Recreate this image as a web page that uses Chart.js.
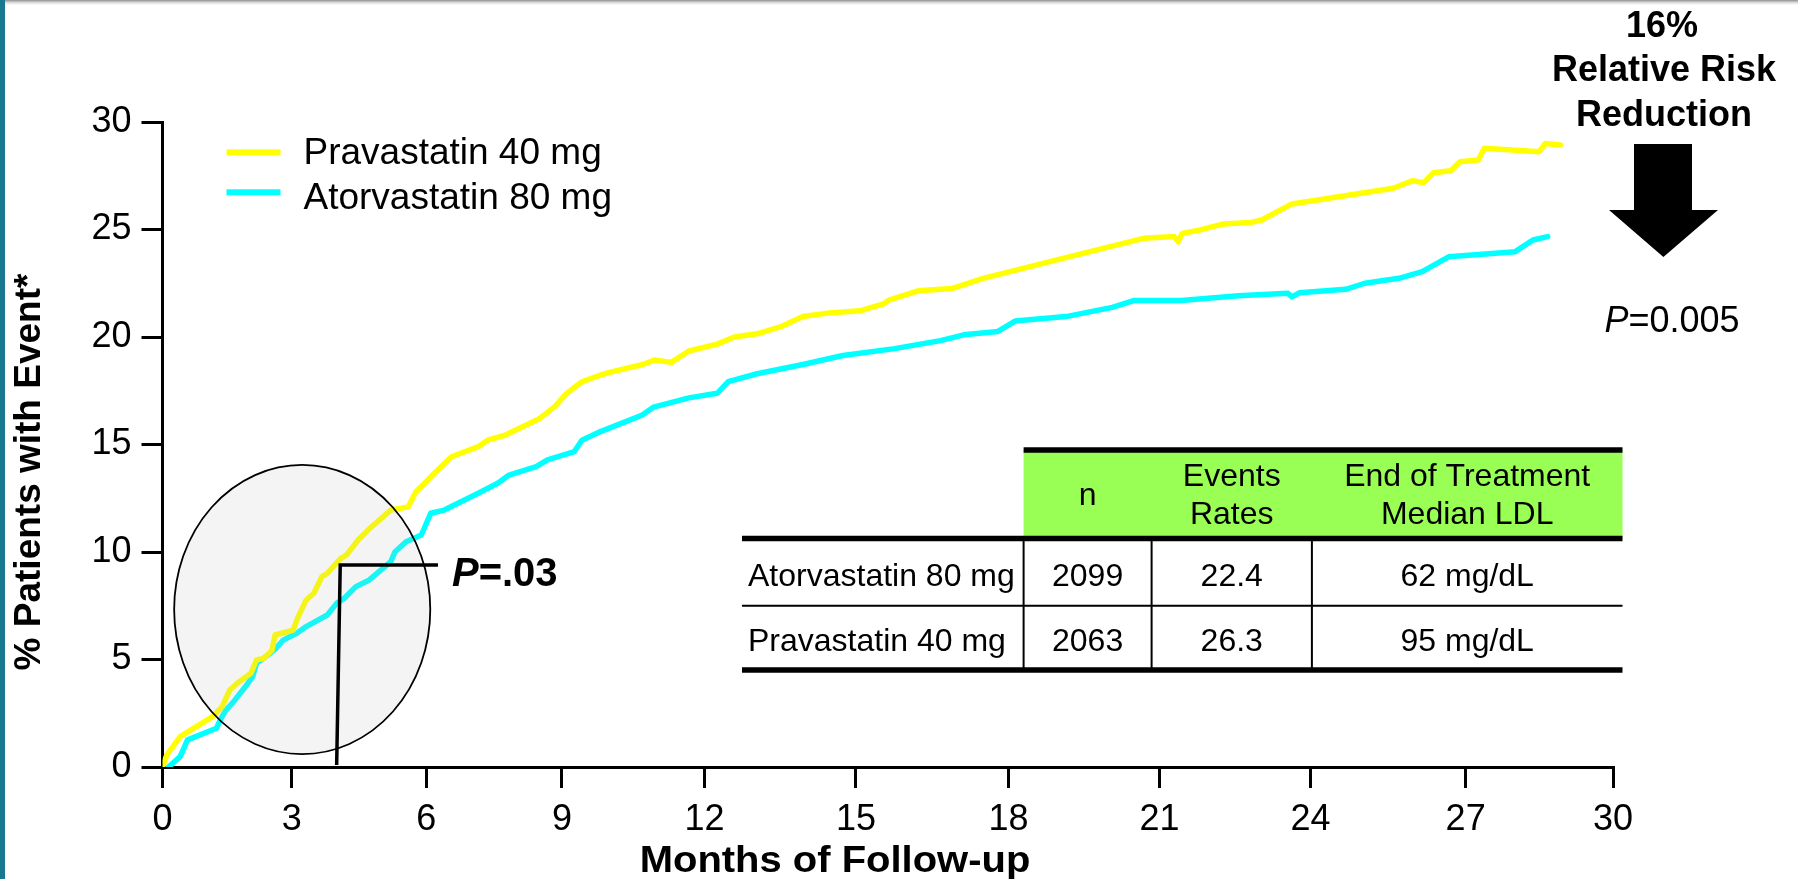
<!DOCTYPE html>
<html>
<head>
<meta charset="utf-8">
<title>% Patients with Event by Months of Follow-up</title>
<script src="https://cdn.jsdelivr.net/npm/chart.js@4.4.1/dist/chart.umd.min.js"></script>
<style>
  html, body { margin: 0; padding: 0; background: #fff; }
  #wrap { position: relative; width: 1798px; height: 879px; }
</style>
</head>
<body>
<div id="wrap"><canvas id="chart"></canvas></div>
<script>
// Cumulative % of patients with an event, by month of follow-up
const pravastatinMonths = [0, 0.1, 0.41, 1.16, 1.38, 1.56, 1.78, 2.05, 2.18, 2.36, 2.54, 2.61, 3.03, 3.11, 3.32,
  3.49, 3.67, 3.79, 4.09, 4.22, 4.48, 4.74, 5.21, 5.6, 5.77, 6.0, 6.14, 6.56, 7.15, 7.36, 7.75, 8.5, 8.84,
  9.1, 9.42, 9.81, 9.98, 10.7, 10.95, 11.3, 11.67, 12.25, 12.59, 13.04, 13.5, 13.95, 14.4, 15.08, 15.54,
  15.65, 16.22, 16.9, 17.5, 19.0, 20.68, 21.29, 21.37, 21.45, 21.81, 22.27, 22.8, 23.03, 23.63, 25.6,
  25.97, 26.19, 26.38, 26.71, 26.89, 27.26, 27.38, 28.5, 28.62, 28.93];
const pravastatinPct = [0, 0.56, 1.41, 2.34, 2.8, 3.58, 3.97, 4.36, 4.98, 5.06, 5.44, 6.14, 6.37, 6.84, 7.77,
  8.08, 8.85, 9.0, 9.7, 9.86, 10.56, 11.1, 11.95, 12.1, 12.8, 13.27, 13.58, 14.43, 14.9, 15.2, 15.44, 16.2, 16.76,
  17.38, 17.92, 18.23, 18.34, 18.72, 18.93, 18.82, 19.35, 19.67, 20.0, 20.15, 20.47, 20.95, 21.1, 21.22, 21.54,
  21.72, 22.15, 22.26, 22.73, 23.61, 24.59, 24.67, 24.43, 24.82, 24.98, 25.26, 25.32, 25.44, 26.19, 26.92,
  27.27, 27.18, 27.64, 27.73, 28.15, 28.23, 28.78, 28.62, 29.0, 28.93];

const atorvastatinMonths = [0.14, 0.41, 0.58, 0.67, 1.25, 1.34, 1.47, 1.65, 1.92, 2.09, 2.18, 2.45, 2.63, 2.8,
  3.11, 3.32, 3.79, 4.0, 4.17, 4.43, 4.73, 5.21, 5.3, 5.55, 5.89, 6.1, 6.4, 7.15, 7.58, 7.83, 8.43, 8.68, 9.26,
  9.42, 9.81, 10.33, 10.69, 10.93, 11.67, 12.25, 12.47, 13.04, 13.95, 14.74, 15.76, 16.66, 17.12, 17.79, 18.13,
  19.14, 20.06, 20.5, 21.43, 22.57, 23.55, 23.63, 23.78, 24.68, 25.05, 25.71, 26.16, 26.67, 28.01, 28.37, 28.67];
const atorvastatinPct = [0, 0.48, 1.26, 1.33, 1.8, 2.19, 2.65, 3.04, 3.73, 4.2, 4.82, 5.21, 5.52, 5.9,
  6.22, 6.53, 7.07, 7.61, 7.85, 8.39, 8.7, 9.55, 10.0, 10.48, 10.79, 11.8, 11.95, 12.73, 13.2, 13.58, 13.97, 14.28, 14.67,
  15.2, 15.6, 16.05, 16.37, 16.74, 17.17, 17.38, 17.92, 18.29, 18.72, 19.14, 19.46, 19.83, 20.1, 20.26, 20.74,
  20.95, 21.38, 21.7, 21.7, 21.92, 22.03, 21.87, 22.06, 22.22, 22.5, 22.73, 23.04, 23.73, 23.97, 24.51, 24.67];

const monthTicks = [0, 3, 6, 9, 12, 15, 18, 21, 24, 27, 30];
const pctTicks = [0, 5, 10, 15, 20, 25, 30];

// Summary table
const tableHeaders = [['n'], ['Events', 'Rates'], ['End of Treatment', 'Median LDL']];
const tableGroups = ['Atorvastatin 80 mg', 'Pravastatin 40 mg'];
const tableN = [2099, 2063];
const tableEventRates = [22.4, 26.3];
const tableMedianLDL = [62, 95];

// Early-separation callout (months / % units)
const earlyWindow = { fromMonth: 0.27, toMonth: 6.09, lowPct: 0.6, highPct: 14.05 };
const earlyBracket = { baseMonth: 4.0, topMonth: 4.08, armMonth: 6.26, pct: 9.4 };
const earlyP = '.03';
const overallP = '0.005';
const relativeRiskReduction = 16;

const FONT = "'Liberation Sans', Arial, Helvetica, sans-serif";

// Follow-up axis: where each labelled month sits along the axis (0 = left end, 1 = right end)
const monthTickStops = [0, 0.0892, 0.1818, 0.2754, 0.3737, 0.4781, 0.5833, 0.6874, 0.7915, 0.8984, 1];

function monthToFraction(v) {
  const m = monthTicks, s = monthTickStops;
  let i = 0;
  while (i < m.length - 2 && v > m[i + 1]) i++;
  return s[i] + (v - m[i]) / (m[i + 1] - m[i]) * (s[i + 1] - s[i]);
}
function fractionToMonth(f) {
  const m = monthTicks, s = monthTickStops;
  let i = 0;
  while (i < s.length - 2 && f > s[i + 1]) i++;
  return m[i] + (f - s[i]) / (s[i + 1] - s[i]) * (m[i + 1] - m[i]);
}

class FollowUpScale extends Chart.LinearScale {
  static id = 'followup';
  getPixelForValue(value) {
    if (value === null || value === undefined || Number.isNaN(value)) return NaN;
    return this.getPixelForDecimal(monthToFraction(value));
  }
  getValueForPixel(pixel) {
    return fractionToMonth(this.getDecimalForPixel(pixel));
  }
}
Chart.register(FollowUpScale);

const zip = (xs, ys) => xs.map((x, i) => ({ x, y: ys[i] }));

function drawRuns(ctx, runs, x, y, align) {
  let total = 0;
  runs.forEach(r => { ctx.font = r.font; r.w = ctx.measureText(r.text).width; total += r.w; });
  let cx = align === 'center' ? x - total / 2 : align === 'right' ? x - total : x;
  ctx.textAlign = 'left';
  runs.forEach(r => { ctx.font = r.font; ctx.fillText(r.text, cx, y); cx += r.w; });
}

// centred text, widened horizontally by sx
function wideText(ctx, text, x, y, sx) {
  ctx.save();
  ctx.translate(x, y);
  ctx.scale(sx, 1);
  ctx.textAlign = 'center';
  ctx.fillText(text, 0, 0);
  ctx.restore();
}

function hLine(ctx, x0, x1, y, w) {
  ctx.beginPath(); ctx.moveTo(x0, y); ctx.lineTo(x1, y); ctx.lineWidth = w; ctx.stroke();
}
function vLine(ctx, x, y0, y1, w) {
  ctx.beginPath(); ctx.moveTo(x, y0); ctx.lineTo(x, y1); ctx.lineWidth = w; ctx.stroke();
}

const decorations = {
  id: 'decorations',
  beforeDraw(chart) {
    const ctx = chart.ctx;
    ctx.save();
    ctx.fillStyle = '#fff';
    ctx.fillRect(0, 0, chart.width, chart.height);
    // slide frame: teal edge at the left and a soft rule along the top
    ctx.fillStyle = '#17788f';
    ctx.fillRect(0, 0, 5, chart.height);
    const g = ctx.createLinearGradient(0, 0, 0, 6);
    g.addColorStop(0, '#8c8c8c');
    g.addColorStop(1, 'rgba(255,255,255,0)');
    ctx.fillStyle = g;
    ctx.fillRect(5, 0, chart.width - 5, 6);
    ctx.restore();
  },
  afterDatasetsDraw(chart) {
    const ctx = chart.ctx, xs = chart.scales.x, ys = chart.scales.y;
    ctx.save();
    // highlighted early window
    const l = xs.getPixelForValue(earlyWindow.fromMonth), r = xs.getPixelForValue(earlyWindow.toMonth);
    const t = ys.getPixelForValue(earlyWindow.highPct), b = ys.getPixelForValue(earlyWindow.lowPct);
    ctx.beginPath();
    ctx.ellipse((l + r) / 2, (t + b) / 2, (r - l) / 2, (b - t) / 2, 0, 0, Math.PI * 2);
    ctx.fillStyle = 'rgba(180,180,180,0.15)';
    ctx.fill();
    ctx.lineWidth = 1.8;
    ctx.strokeStyle = '#000';
    ctx.stroke();
    // bracket at the early comparison
    const armY = ys.getPixelForValue(earlyBracket.pct);
    const armEnd = xs.getPixelForValue(earlyBracket.armMonth);
    ctx.beginPath();
    ctx.moveTo(xs.getPixelForValue(earlyBracket.baseMonth), ys.getPixelForValue(0) - 2);
    ctx.lineTo(xs.getPixelForValue(earlyBracket.topMonth), armY);
    ctx.lineTo(armEnd, armY);
    ctx.lineWidth = 3.5;
    ctx.lineJoin = 'miter';
    ctx.stroke();
    ctx.fillStyle = '#000';
    ctx.textBaseline = 'alphabetic';
    drawRuns(ctx, [
      { text: 'P', font: `italic bold 40px ${FONT}` },
      { text: '=' + earlyP, font: `bold 40px ${FONT}` }
    ], armEnd + 14, armY + 21, 'left');
    ctx.restore();
  },
  afterDraw(chart) {
    const ctx = chart.ctx;
    ctx.save();
    ctx.fillStyle = '#000';
    ctx.strokeStyle = '#000';

    // legend
    const legendLineY = [152.3, 192.3], legendTextY = [164, 209];
    chart.data.datasets.forEach((ds, i) => {
      ctx.fillStyle = ds.borderColor;
      ctx.fillRect(226.5, legendLineY[i] - 3, 54, 6);
      ctx.fillStyle = '#000';
      ctx.font = `37px ${FONT}`;
      ctx.textAlign = 'left';
      ctx.textBaseline = 'alphabetic';
      ctx.fillText(ds.label, 303.5, legendTextY[i]);
    });

    // axis titles
    ctx.font = `bold 37px ${FONT}`;
    ctx.textBaseline = 'middle';
    wideText(ctx, 'Months of Follow-up', 835, 862, 1.08);
    ctx.save();
    ctx.translate(30, 472);
    ctx.rotate(-Math.PI / 2);
    ctx.textAlign = 'center';
    ctx.fillText('% Patients with Event*', 0, 0);
    ctx.restore();

    // relative risk reduction callout
    ctx.textBaseline = 'alphabetic';
    ctx.font = `bold 36px ${FONT}`;
    ctx.textAlign = 'center';
    ctx.fillText(relativeRiskReduction + '%', 1662, 37);
    ctx.fillText('Relative Risk', 1664, 81);
    ctx.fillText('Reduction', 1664, 126);
    ctx.beginPath();
    ctx.moveTo(1634, 144); ctx.lineTo(1692, 144); ctx.lineTo(1692, 210); ctx.lineTo(1718, 210);
    ctx.lineTo(1663.4, 257); ctx.lineTo(1609, 210); ctx.lineTo(1634, 210); ctx.closePath();
    ctx.fill();
    drawRuns(ctx, [
      { text: 'P', font: `italic 36px ${FONT}` },
      { text: '=' + overallP, font: `36px ${FONT}` }
    ], 1672, 332, 'center');

    // summary table
    const left = 742, right = 1622.5, cols = [1023.6, 1151.6, 1311.9];
    const top = 450, headBottom = 538.5, rowDiv = 605.7, bottom = 670;
    ctx.fillStyle = '#99ff55';
    ctx.fillRect(cols[0], top, right - cols[0], headBottom - top);
    ctx.strokeStyle = '#000';
    hLine(ctx, cols[0], right, top, 5.5);
    hLine(ctx, left, right, headBottom, 5.5);
    hLine(ctx, left, right, rowDiv, 2);
    hLine(ctx, left, right, bottom, 5.5);
    cols.forEach(x => vLine(ctx, x, headBottom, bottom, 2));
    const colCenters = [(cols[0] + cols[1]) / 2, (cols[1] + cols[2]) / 2, (cols[2] + right) / 2];
    ctx.fillStyle = '#000';
    ctx.font = `32px ${FONT}`;
    ctx.textAlign = 'center';
    ctx.textBaseline = 'middle';
    tableHeaders.forEach((lines, c) => {
      if (lines.length === 1) ctx.fillText(lines[0], colCenters[c], 496);
      else { ctx.fillText(lines[0], colCenters[c], 477); ctx.fillText(lines[1], colCenters[c], 515); }
    });
    const rowY = [577, 642];
    tableGroups.forEach((name, r) => {
      ctx.textAlign = 'left';
      ctx.fillText(name, 748, rowY[r]);
      ctx.textAlign = 'center';
      ctx.fillText(String(tableN[r]), colCenters[0], rowY[r]);
      ctx.fillText(tableEventRates[r].toFixed(1), colCenters[1], rowY[r]);
      ctx.fillText(tableMedianLDL[r] + ' mg/dL', colCenters[2], rowY[r]);
    });
    ctx.restore();
  }
};

new Chart(document.getElementById('chart'), {
  type: 'line',
  data: {
    datasets: [
      {
        label: 'Pravastatin 40 mg',
        data: zip(pravastatinMonths, pravastatinPct),
        borderColor: '#ffff00',
        backgroundColor: '#ffff00',
        borderWidth: 5.5,
        pointRadius: 0,
        tension: 0,
        borderJoinStyle: 'round',
        borderCapStyle: 'round'
      },
      {
        label: 'Atorvastatin 80 mg',
        data: zip(atorvastatinMonths, atorvastatinPct),
        borderColor: '#00ffff',
        backgroundColor: '#00ffff',
        borderWidth: 5.5,
        pointRadius: 0,
        tension: 0,
        borderJoinStyle: 'round',
        borderCapStyle: 'round'
      }
    ]
  },
  options: {
    responsive: true,
    maintainAspectRatio: false,
    animation: false,
    devicePixelRatio: 1,
    layout: { padding: { top: 122, right: 185, bottom: 0, left: 0 } },
    plugins: { legend: { display: false }, tooltip: { enabled: false } },
    scales: {
      x: {
        type: 'followup',
        min: 0,
        max: 30,
        afterFit(s) { s.height = 112; },
        afterBuildTicks(s) { s.ticks = monthTicks.map(v => ({ value: v })); },
        border: { display: true, color: '#000', width: 3 },
        grid: { drawOnChartArea: false, drawTicks: true, tickLength: 21, color: '#000', lineWidth: 3 },
        ticks: { color: '#000', font: { family: FONT, size: 36 }, padding: 10, maxRotation: 0, autoSkip: false,
                 callback: v => String(v) }
      },
      y: {
        type: 'linear',
        min: 0,
        max: 30,
        afterFit(s) { s.width = 162.5; },
        afterBuildTicks(s) { s.ticks = pctTicks.map(v => ({ value: v })); },
        border: { display: true, color: '#000', width: 3 },
        grid: { drawOnChartArea: false, drawTicks: true, tickLength: 21, color: '#000', lineWidth: 3 },
        ticks: { color: '#000', font: { family: FONT, size: 36 }, padding: 10, autoSkip: false,
                 callback: v => String(v) }
      }
    }
  },
  plugins: [decorations]
});
</script>
</body>
</html>
